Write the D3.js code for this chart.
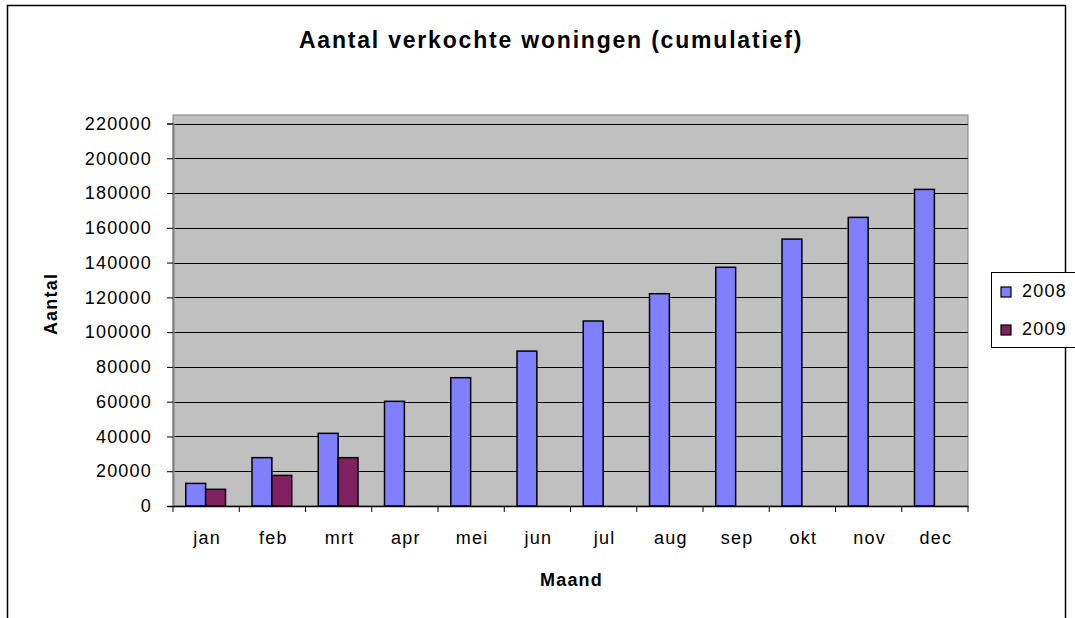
<!DOCTYPE html>
<html>
<head>
<meta charset="utf-8">
<script src="https://cdn.jsdelivr.net/npm/d3@7"></script>
<style>
  body { margin: 0; background: #fff; }
  text { font-family: "Liberation Sans", Arial, sans-serif; fill: #000; }
</style>
</head>
<body>
<svg id="chart" width="1075" height="618"></svg>
<script>
// data
var months = ["jan", "feb", "mrt", "apr", "mei", "jun", "jul", "aug", "sep", "okt", "nov", "dec"];
var seriesNames = ["2008", "2009"];
var values2008 = [13000, 27800, 41800, 60200, 73800, 89100, 106400, 122100, 137300, 153500, 166000, 182100];
var values2009 = [9600, 17600, 27800, null, null, null, null, null, null, null, null, null];
var yTicks = [0, 20000, 40000, 60000, 80000, 100000, 120000, 140000, 160000, 180000, 200000, 220000];
var colors = ["#8080ff", "#802060"];

var svg = d3.select("#chart");

// plot area
var plot = {left: 173, right: 968, top: 115, bottom: 506};

// outer chart border
svg.append("rect")
   .attr("x", 7.5).attr("y", 5.5)
   .attr("width", 1058).attr("height", 640)
   .attr("fill", "none").attr("stroke", "#000").attr("stroke-width", 1.5);

// scales
var x = d3.scaleBand().domain(months).range([plot.left, plot.right]);
var x1 = d3.scaleBand().domain(seriesNames)
           .range([x.bandwidth() * 0.2 - 0.5, x.bandwidth() * 0.8 - 0.5]);
var y = d3.scaleLinear().domain([0, 220000]).range([plot.bottom, plot.bottom - 382.5]);

// plot background
svg.append("rect")
   .attr("x", plot.left).attr("y", plot.top)
   .attr("width", plot.right - plot.left).attr("height", plot.bottom - plot.top)
   .attr("fill", "#c0c0c0").attr("stroke", "#808080").attr("stroke-width", 1);

// gridlines
svg.append("g")
   .selectAll("line")
   .data(yTicks.slice(1))
   .enter().append("line")
     .attr("x1", plot.left).attr("x2", plot.right)
     .attr("y1", function(d) { return Math.round(y(d)) + 0.5; })
     .attr("y2", function(d) { return Math.round(y(d)) + 0.5; })
     .attr("stroke", "#000").attr("stroke-width", 1);

// bars
var rows = months.map(function(m, i) {
  return {month: m, vals: [{s: "2008", v: values2008[i]}, {s: "2009", v: values2009[i]}]};
});

svg.append("g")
   .selectAll("g")
   .data(rows)
   .enter().append("g")
     .attr("transform", function(d) { return "translate(" + x(d.month) + ",0)"; })
   .selectAll("rect")
   .data(function(d) { return d.vals.filter(function(e) { return e.v != null; }); })
   .enter().append("rect")
     .attr("x", function(d) { return x1(d.s); })
     .attr("y", function(d) { return y(d.v); })
     .attr("width", x1.bandwidth())
     .attr("height", function(d) { return y(0) - y(d.v); })
     .attr("fill", function(d) { return colors[seriesNames.indexOf(d.s)]; })
     .attr("stroke", "#000").attr("stroke-width", 1.5);

// y axis
var yAxis = svg.append("g")
   .attr("transform", "translate(" + plot.left + ",0)")
   .call(d3.axisLeft(y).tickValues(yTicks).tickSize(6).tickPadding(15).tickFormat(d3.format("d")));
yAxis.select(".domain").attr("stroke", "#808080").attr("stroke-width", 2);
yAxis.selectAll(".tick line").attr("stroke", "#000");
yAxis.selectAll("text").style("font-size", "18px").style("letter-spacing", "1.2px");

// x axis
var xAxis = svg.append("g")
   .attr("transform", "translate(0," + plot.bottom + ")")
   .call(d3.axisBottom(x).tickSize(0).tickPadding(25));
xAxis.select(".domain").attr("stroke", "#000").attr("stroke-width", 1.5);
xAxis.selectAll("text").style("font-size", "18px").style("letter-spacing", "1.2px").attr("dx", 1);

// category separator ticks
svg.append("g")
   .selectAll("line")
   .data(d3.range(months.length + 1))
   .enter().append("line")
     .attr("x1", function(i) { return plot.left + i * x.step(); })
     .attr("x2", function(i) { return plot.left + i * x.step(); })
     .attr("y1", plot.bottom).attr("y2", plot.bottom + 6)
     .attr("stroke", "#000");

// titles
svg.append("text")
   .attr("x", 551).attr("y", 48)
   .attr("text-anchor", "middle")
   .style("font-size", "23px").style("font-weight", "bold").style("letter-spacing", "1.8px")
   .text("Aantal verkochte woningen (cumulatief)");

svg.append("text")
   .attr("x", (plot.left + plot.right) / 2 + 1).attr("y", 586)
   .attr("text-anchor", "middle")
   .style("font-size", "18px").style("font-weight", "bold").style("letter-spacing", "1.2px")
   .text("Maand");

svg.append("text")
   .attr("transform", "translate(57,304) rotate(-90)")
   .attr("text-anchor", "middle")
   .style("font-size", "18px").style("font-weight", "bold").style("letter-spacing", "1.2px")
   .text("Aantal");

// legend
var legend = svg.append("g").attr("transform", "translate(991,272)");
legend.append("rect")
   .attr("x", 0.5).attr("y", 0.5).attr("width", 90).attr("height", 75)
   .attr("fill", "#fff").attr("stroke", "#000");
var items = legend.selectAll("g.item")
   .data(seriesNames)
   .enter().append("g")
     .attr("class", "item")
     .attr("transform", function(d, i) { return "translate(0," + (25 + i * 38) + ")"; });
items.append("rect")
   .attr("x", 10).attr("y", -10).attr("width", 10).attr("height", 10)
   .attr("fill", function(d, i) { return colors[i]; })
   .attr("stroke", "#000").attr("stroke-width", 1.2);
items.append("text")
   .attr("x", 31).attr("y", 0)
   .style("font-size", "18px").style("letter-spacing", "1.2px")
   .text(function(d) { return d; });
</script>
</body>
</html>
